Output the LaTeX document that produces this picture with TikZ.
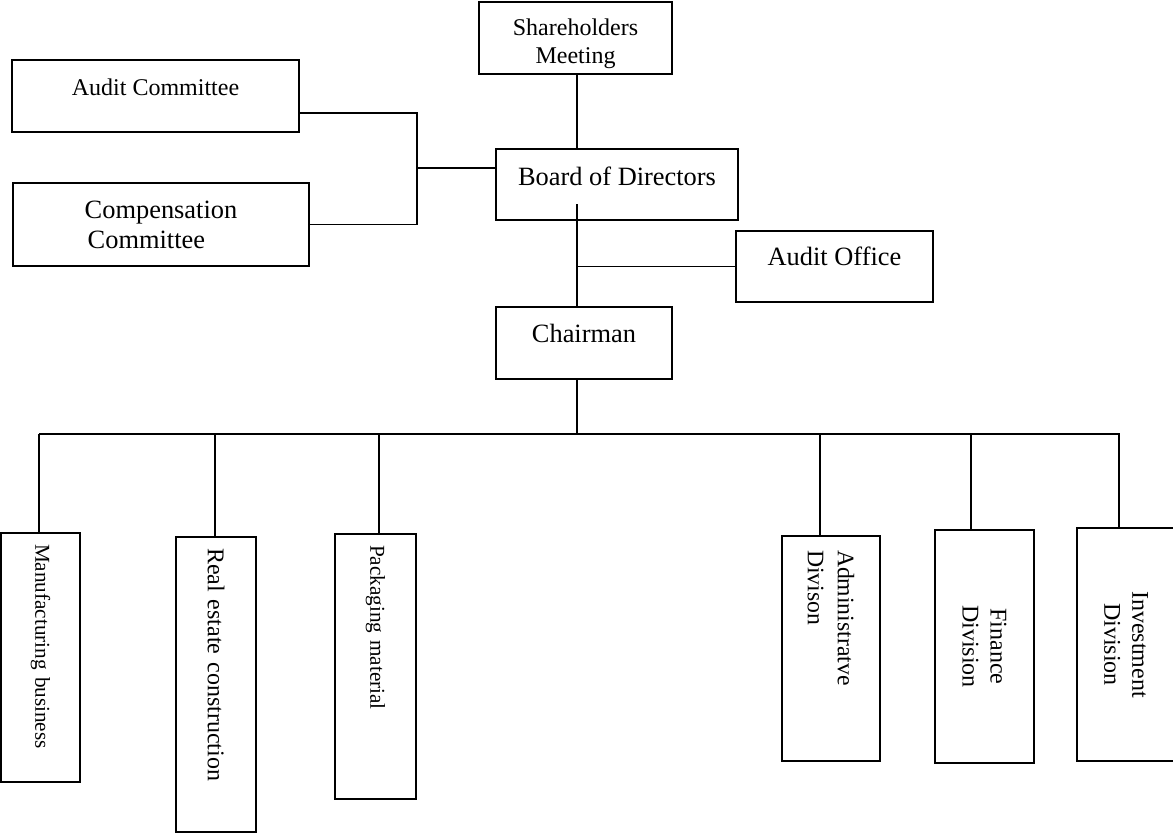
\documentclass[tikz,border=0pt]{standalone}
\usepackage{fontspec}
\setmainfont{Liberation Serif}

\begin{document}
\begin{tikzpicture}[x=1pt, y=-1pt, line width=1.5pt,
    orgbox/.style={draw, inner sep=0pt, align=center},
    unitbox/.style={draw, rotate=-90, inner ysep=0pt},
    txtL/.style={font=\fontsize{26.4}{30}\selectfont},
    txtM/.style={font=\fontsize{24}{28}\selectfont},
    txtS/.style={font=\fontsize{21.2}{25}\selectfont}]
    \useasboundingbox (0,0) rectangle (1173,833);
    % governance part
    \node[orgbox, txtM, minimum width=193pt, minimum height=72pt] (share) at (575.5,38) {\rule{0pt}{28pt}Shareholders\\Meeting};
    \node[orgbox, txtM, minimum width=287pt, minimum height=72pt, text height=20pt, text depth=21.6pt] (auditc) at (155.5,96) {Audit Committee};
    \node[orgbox, txtL, align=left, minimum width=296pt, minimum height=83pt] (comp) at (161,224.5) {Compensation\\\hspace{3pt}Committee};
    \node[orgbox, txtL, minimum width=242pt, minimum height=71pt, text height=22pt, text depth=19.6pt] (board) at (617,184.5) {Board of Directors};
    \node[orgbox, txtL, minimum width=197pt, minimum height=71pt, text height=20pt, text depth=21.6pt] (auditoff) at (834.5,266.5) {Audit Office};
    \node[orgbox, txtL, minimum width=176pt, minimum height=72pt, text height=20pt, text depth=20.6pt] (chair) at (584,343) {Chairman};

    % business units and divisions
    \node[unitbox, txtS, align=left, inner xsep=11pt, text width=227pt, minimum height=79pt] (manu) at (40.5,657.5) {Manufacturing business};
    \node[unitbox, txtM, align=left, inner xsep=11pt, text width=273pt, minimum height=80pt] (real) at (216,684.5) {Real estate construction};
    \node[unitbox, txtS, align=left, inner xsep=11pt, text width=243pt, minimum height=81pt] (pack) at (375.5,666.5) {Packaging material};
    \node[unitbox, txtM, align=left, inner xsep=14pt, text width=197pt, minimum height=98pt, font=\fontsize{23.7}{30}\selectfont] (admin) at (831,648.5) {Administratve\\Divison};
    \node[unitbox, txtM, align=center, minimum width=233pt, minimum height=99pt] (fin) at (984.5,646.5) {Finance\\Division};
    \node[unitbox, txtM, align=center, minimum width=233pt, minimum height=98pt] (inv) at (1126,644.5) {Investment\\Division};

    \coordinate (jn) at (417,168);
    \coordinate (bd) at (577,204);
    \coordinate (spine) at (577,434);
    \coordinate (busL) at (39,434);
    \coordinate (busR) at (1120,434);

    \draw (share.south -| bd) -- (board.north -| bd);
    \draw ([yshift=20pt]auditc.south east) -| (jn |- comp.east) -- (comp.east);
    \draw (jn) -- (jn -| board.west);
    \draw (bd) -- (bd |- chair.north);
    \draw (auditoff.west) -- (auditoff.west -| bd);
    \draw (bd |- chair.south) -- (spine);
    \draw (busL) -- (busR);
    \foreach \n/\x in {manu/39, real/215, pack/379, admin/820, fin/971, inv/1119}
      \draw (spine -| \x,0) -- (\n.west -| \x,0);
  \end{tikzpicture}
\end{document}
